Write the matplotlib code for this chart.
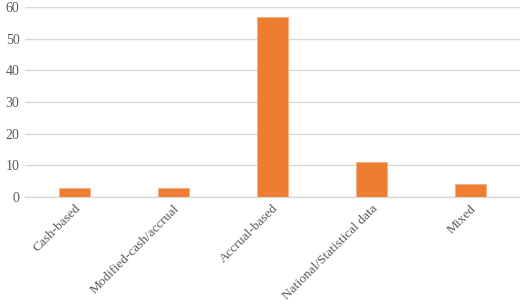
import matplotlib
matplotlib.use("Agg")
import matplotlib.pyplot as plt

categories = ["Cash-based", "Modified-cash/accrual", "Accrual-based",
              "National/Statistical data", "Mixed"]
values = [3, 3, 57, 11, 4]

plt.rcParams['font.family'] = ['Liberation Serif', 'DejaVu Serif']

fig = plt.figure(figsize=(5.2, 3.06), dpi=100)
ax = fig.add_axes([25 / 520, 1 - 197 / 306, 1 - 25 / 520, 190 / 306])

x = range(len(categories))
ax.bar(x, values, width=0.31, color="#ED7D31", edgecolor="#F4B183", linewidth=0.8, zorder=3)

ax.set_xlim(-0.5, len(categories) - 0.5)
ax.set_ylim(0, 60)
ax.set_yticks(range(0, 61, 10))
ax.grid(axis="y", color="#D9D9D9", linewidth=1, zorder=0)
ax.set_xticks(list(x))
ax.set_xticklabels(categories, rotation=45, ha="right", rotation_mode="anchor")
ax.tick_params(axis="y", length=0, labelsize=10, colors="#595959", pad=4)
ax.tick_params(axis="x", length=0, labelsize=9.6, colors="#595959", pad=4)

for s in ["top", "right", "left"]:
    ax.spines[s].set_visible(False)
ax.spines["bottom"].set_color("#D9D9D9")
ax.spines["bottom"].set_linewidth(1)

fig.savefig("out.png", dpi=100)
